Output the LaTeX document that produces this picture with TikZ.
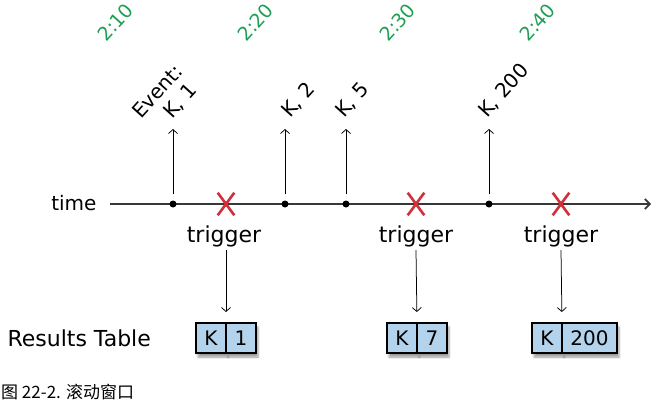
\documentclass[tikz,border=0pt]{standalone}
\usepackage{fontspec}
\setmainfont{DejaVu Sans}
\newfontfamily\cjkfont{Noto Sans CJK SC}
\usetikzlibrary{arrows.meta,positioning,shapes.misc,shadows.blur}

\definecolor{stampgreen}{HTML}{1E9E52}
\definecolor{firered}{HTML}{D0303A}
\definecolor{cellblue}{HTML}{B3D3EC}

\begin{document}
\begin{tikzpicture}[
    x=1pt, y=-1pt,
    font=\fontsize{22}{26}\selectfont,
    tick/.style={-{Straight Barb[length=4pt,width=9pt]}, line width=0.75pt},
    stamp/.style={text=stampgreen, font=\fontsize{19}{22}\selectfont,
                  rotate=48, anchor=base west, inner sep=0pt},
    event/.style={font=\fontsize{20}{24}\selectfont, rotate=48,
                  anchor=base west, inner sep=0pt},
    arrival/.style={circle, fill=black, inner sep=0pt, minimum size=7pt},
    fire/.style={cross out, draw=firered, line width=2.6pt,
                 minimum width=14pt, minimum height=20pt, inner sep=0pt},
    cell/.style={draw, line width=1.6pt, fill=cellblue, inner sep=0pt, outer sep=0pt,
                 minimum height=30pt, minimum width=30pt, font=\fontsize{20}{24}\selectfont,
                 blur shadow={shadow xshift=2pt, shadow yshift=-4pt}}
  ]
  \useasboundingbox (0,0) rectangle (655,402);

  % window boundaries
  \node[stamp] (s1) at (106,43) {2:10};
  \node[stamp] (s2) at (246,43) {2:20};
  \node[stamp] (s3) at (388,43) {2:30};
  \node[stamp] (s4) at (528,43) {2:40};

  % time axis
  \node[anchor=east, font=\fontsize{20}{24}\selectfont] (time) at (100,203) {time};
  \coordinate (axisend) at (651,204);
  \draw[line width=1.7pt, draw=black!78, shorten <=10pt,
        -{Straight Barb[length=5pt,width=10pt]}] (time.east |- axisend) -- (axisend);

  % arriving events
  \node[arrival] (e1) at (173,204) {};
  \node[arrival] (e2) at (285,204) {};
  \node[arrival] (e3) at (346,204) {};
  \node[arrival] (e4) at (489,204) {};
  \coordinate (up1) at (173,129);
  \coordinate (up2) at (285,129);
  \coordinate (up3) at (346,129);
  \coordinate (up4) at (489,129);
  \draw[tick, shorten <=6pt] (e1) -- (up1);
  \draw[tick, shorten <=6pt] (e2) -- (up2);
  \draw[tick, shorten <=6pt] (e3) -- (up3);
  \draw[tick, shorten <=6pt] (e4) -- (up4);

  \node[event] (ev0) at (141,120) {Event:};
  \node[event] (ev1) at (172,120) {K, 1};
  \node[event] (ev2) at (290,119) {K, 2};
  \node[event] (ev3) at (344,119) {K, 5};
  \node[event] (ev4) at (487,119) {K, 200};

  % triggers
  \node[fire] (x1) at (226,204) {};
  \node[fire] (x2) at (416,204) {};
  \node[fire] (x3) at (561,204) {};
  \node[anchor=base] (t1) at (224,242) {trigger};
  \node[anchor=base] (t2) at (416,242) {trigger};
  \node[anchor=base] (t3) at (561,242) {trigger};

  % results
  \node[anchor=base west] (results) at (4,346) {Results Table};
  \node[cell] (k1) at (211,338) {K};
  \node[cell, right=0pt of k1] (v1) {1};
  \node[cell] (k2) at (402,338) {K};
  \node[cell, right=0pt of k2] (v2) {7};
  \node[cell] (k3) at (547,338) {K};
  \node[cell, minimum width=55pt, right=0pt of k3] (v3) {200};

  \draw[tick, shorten >=11pt] (t1.south -| k1.north east) -- (k1.north east);
  \draw[tick, shorten >=11pt] (t2.south) -- (k2.north east);
  \draw[tick, shorten >=11pt] (t3.south) -- (k3.north east);

  \node[anchor=base west, inner sep=0pt, font=\cjkfont\fontsize{17}{19}\selectfont]
    (caption) at (1,398) {图 22-2. 滚动窗口};
\end{tikzpicture}
\end{document}
